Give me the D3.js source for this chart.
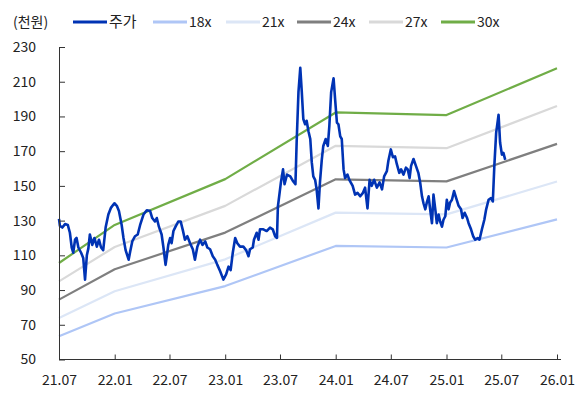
<!DOCTYPE html>
<html>
<head>
<meta charset="utf-8">
<script src="https://cdn.jsdelivr.net/npm/d3@7"></script>
<style>
  body { margin: 0; background: #fff; }
  svg text { font-family: "Noto Sans CJK KR", "Noto Sans", sans-serif; fill: #222; }
</style>
</head>
<body>
<script>
// PER band breakpoints (half-year ticks are drawn from these too)
const bandDates = ['2021-07-01', '2022-01-01', '2023-01-01', '2024-01-01', '2025-01-01', '2026-01-01']
const band18 = [63.4, 76.5, 92.3, 115.4, 114.5, 130.7]
const band21 = [73.9, 89.3, 107.7, 134.6, 133.6, 152.5]
const band24 = [84.5, 102.0, 123.1, 153.8, 152.6, 174.2]
const band27 = [95.0, 114.8, 138.5, 173.1, 171.7, 196.0]
const band30 = [105.6, 127.5, 153.9, 192.3, 190.8, 217.8]

const yTicks = [50, 70, 90, 110, 130, 150, 170, 190, 210, 230]
const unitLabel = '(천원)'

// share price (천원)
const price = [
  ['2021-07-01', 131], ['2021-07-04', 127], ['2021-07-12', 126], ['2021-07-21', 128], ['2021-07-30', 127.5],
  ['2021-08-06', 123], ['2021-08-12', 114.5], ['2021-08-17', 111.5], ['2021-08-23', 119], ['2021-08-28', 120],
  ['2021-09-03', 114.5], ['2021-09-12', 111.5], ['2021-09-19', 108.5], ['2021-09-25', 96], ['2021-10-01', 110],
  ['2021-10-06', 114], ['2021-10-11', 122], ['2021-10-19', 116], ['2021-10-26', 120], ['2021-11-03', 115],
  ['2021-11-10', 119], ['2021-11-17', 114.5], ['2021-11-24', 113], ['2021-12-02', 126], ['2021-12-11', 133.5],
  ['2021-12-20', 137.5], ['2021-12-31', 140], ['2022-01-08', 138.5], ['2022-01-15', 135.5], ['2022-01-24', 127.5],
  ['2022-01-30', 120], ['2022-02-06', 113], ['2022-02-16', 107.5], ['2022-02-21', 112], ['2022-02-28', 118],
  ['2022-03-09', 121], ['2022-03-18', 122], ['2022-03-26', 127.5], ['2022-04-06', 133.5], ['2022-04-17', 136],
  ['2022-04-28', 135.5], ['2022-05-05', 131.5], ['2022-05-14', 129.5], ['2022-05-20', 131.5], ['2022-05-27', 126.5],
  ['2022-06-05', 122], ['2022-06-11', 114.5], ['2022-06-18', 104.5], ['2022-06-22', 109.5], ['2022-06-27', 116],
  ['2022-07-03', 120], ['2022-07-08', 117], ['2022-07-14', 124], ['2022-07-21', 126.5], ['2022-07-30', 129.5],
  ['2022-08-07', 129.5], ['2022-08-14', 124.5], ['2022-08-21', 119], ['2022-08-29', 121], ['2022-09-07', 117],
  ['2022-09-16', 113.5], ['2022-09-23', 107.5], ['2022-10-01', 115], ['2022-10-10', 119], ['2022-10-18', 116],
  ['2022-10-27', 118], ['2022-11-03', 114.5], ['2022-11-12', 113.5], ['2022-11-21', 109.5], ['2022-11-29', 107.5],
  ['2022-12-06', 104.5], ['2022-12-15', 101], ['2022-12-26', 96], ['2023-01-04', 99], ['2023-01-12', 103.5],
  ['2023-01-19', 101.5], ['2023-01-26', 111.5], ['2023-02-03', 120], ['2023-02-10', 117], ['2023-02-19', 115],
  ['2023-03-02', 115], ['2023-03-11', 113], ['2023-03-19', 109.5], ['2023-03-24', 113.5], ['2023-04-02', 114.5],
  ['2023-04-06', 119], ['2023-04-15', 123], ['2023-04-21', 119], ['2023-04-26', 125], ['2023-05-07', 125],
  ['2023-05-18', 124], ['2023-05-29', 126], ['2023-06-07', 125], ['2023-06-15', 121], ['2023-06-21', 120],
  ['2023-06-24', 138], ['2023-07-04', 152], ['2023-07-11', 159.5], ['2023-07-16', 151], ['2023-07-24', 156.5],
  ['2023-08-04', 155.5], ['2023-08-14', 152.5], ['2023-08-21', 151], ['2023-08-25', 175], ['2023-08-31', 204],
  ['2023-09-06', 218], ['2023-09-11', 204], ['2023-09-16', 188.5], ['2023-09-22', 185.5], ['2023-09-27', 187.5],
  ['2023-10-03', 181.5], ['2023-10-09', 177], ['2023-10-14', 163.5], ['2023-10-19', 155.5], ['2023-10-25', 153.5],
  ['2023-10-30', 148], ['2023-11-05', 137], ['2023-11-10', 152], ['2023-11-16', 165], ['2023-11-21', 173],
  ['2023-11-29', 177], ['2023-12-06', 173], ['2023-12-11', 184.5], ['2023-12-17', 204], ['2023-12-25', 212],
  ['2023-12-30', 200], ['2024-01-05', 186.5], ['2024-01-10', 185.5], ['2024-01-16', 178.5], ['2024-01-21', 177],
  ['2024-01-27', 159.5], ['2024-02-01', 154.5], ['2024-02-09', 156.5], ['2024-02-15', 153.5], ['2024-02-26', 150],
  ['2024-03-05', 145], ['2024-03-13', 146], ['2024-03-22', 144], ['2024-03-31', 146], ['2024-04-07', 149],
  ['2024-04-15', 137], ['2024-04-22', 153.5], ['2024-04-29', 150], ['2024-05-07', 153.5], ['2024-05-16', 149],
  ['2024-05-25', 152], ['2024-06-02', 148], ['2024-06-09', 155.5], ['2024-06-18', 158.5], ['2024-06-23', 164.5],
  ['2024-07-01', 171], ['2024-07-08', 166.5], ['2024-07-15', 167], ['2024-07-21', 162.5], ['2024-07-29', 157.5],
  ['2024-08-04', 159.5], ['2024-08-12', 156.5], ['2024-08-20', 160.5], ['2024-08-26', 159.5], ['2024-09-01', 154.5],
  ['2024-09-06', 161.5], ['2024-09-14', 165.5], ['2024-09-22', 161.5], ['2024-09-30', 157.5], ['2024-10-06', 152],
  ['2024-10-12', 144], ['2024-10-17', 140], ['2024-10-23', 136.5], ['2024-10-28', 140.5], ['2024-11-03', 144],
  ['2024-11-08', 136.5], ['2024-11-14', 128.5], ['2024-11-19', 145], ['2024-11-25', 136.5], ['2024-11-30', 128.5],
  ['2024-12-06', 133.5], ['2024-12-11', 129.5], ['2024-12-17', 126.5], ['2024-12-22', 130.5], ['2024-12-28', 132.5],
  ['2025-01-02', 142], ['2025-01-08', 136.5], ['2025-01-13', 140.5], ['2025-01-19', 142], ['2025-01-26', 147],
  ['2025-02-02', 143], ['2025-02-10', 138.5], ['2025-02-18', 136.5], ['2025-02-23', 131.5], ['2025-03-02', 134.5],
  ['2025-03-10', 131.5], ['2025-03-15', 128.5], ['2025-03-23', 125], ['2025-03-30', 121], ['2025-04-06', 119],
  ['2025-04-14', 120], ['2025-04-20', 119], ['2025-04-28', 125], ['2025-05-06', 130.5], ['2025-05-12', 136.5],
  ['2025-05-20', 142], ['2025-05-28', 143], ['2025-06-03', 141], ['2025-06-08', 161.5], ['2025-06-14', 180.5],
  ['2025-06-22', 191], ['2025-06-27', 175], ['2025-07-03', 168], ['2025-07-08', 169], ['2025-07-14', 165]
]

const series = [
  { name: '주가', color: '#0033b4', width: 2.6, values: price },
  { name: '18x', color: '#afc6f6', width: 2.2, values: bandDates.map((d, i) => [d, band18[i]]) },
  { name: '21x', color: '#dce6f6', width: 2.2, values: bandDates.map((d, i) => [d, band21[i]]) },
  { name: '24x', color: '#7f7f7f', width: 2.2, values: bandDates.map((d, i) => [d, band24[i]]) },
  { name: '27x', color: '#d9d9d9', width: 2.2, values: bandDates.map((d, i) => [d, band27[i]]) },
  { name: '30x', color: '#70ad47', width: 2.2, values: bandDates.map((d, i) => [d, band30[i]]) }
]

const width = 577
const height = 394
const parse = d3.timeParse('%Y-%m-%d')

const svg = d3.select('body').append('svg')
  .attr('width', width)
  .attr('height', height)

const x = d3.scaleTime()
  .domain([parse(bandDates[0]), parse(bandDates[bandDates.length - 1])])
  .range([59, 557])

const y = d3.scaleLinear()
  .domain([50, 230])
  .range([359.5, 47])

// draw bands first, price on top
const line = d3.line()
  .x(d => x(parse(d[0])))
  .y(d => y(d[1]))

svg.append('g')
  .selectAll('path')
  .data(series.slice(1).concat(series.slice(0, 1)))
  .enter()
  .append('path')
  .attr('d', d => line(d.values))
  .attr('fill', 'none')
  .attr('stroke', d => d.color)
  .attr('stroke-width', d => d.width)
  .attr('stroke-linejoin', 'round')

// axes
const xAxis = svg.append('g')
  .attr('transform', `translate(0,${y(50)})`)
  .call(d3.axisBottom(x)
    .ticks(d3.timeMonth.every(6))
    .tickFormat(d3.timeFormat('%y.%m'))
    .tickSizeInner(-5)
    .tickSizeOuter(0)
    .tickPadding(16))
xAxis.select('.domain').remove()
xAxis.append('line')
  .attr('x1', x.range()[0]).attr('x2', x.range()[1] + 4)
  .attr('stroke', '#333').attr('stroke-width', 1)
xAxis.selectAll('.tick line').attr('stroke', '#333')
xAxis.selectAll('text').attr('font-size', 14).attr('fill', '#222')

const yAxis = svg.append('g')
  .attr('transform', `translate(${x.range()[0]},0)`)
  .call(d3.axisLeft(y)
    .tickValues(yTicks)
    .tickSizeInner(-6)
    .tickSizeOuter(0)
    .tickPadding(23))
yAxis.select('.domain').attr('stroke', '#333')
yAxis.selectAll('.tick line').attr('stroke', '#333')
yAxis.selectAll('text').attr('font-size', 14).attr('fill', '#222')

// legend
svg.append('text')
  .attr('x', 13).attr('y', 27)
  .attr('font-size', 14)
  .text(unitLabel)

const legendX = [73, 153, 226, 297, 369, 441]
const legend = svg.append('g')
  .selectAll('g')
  .data(series)
  .enter()
  .append('g')
  .attr('transform', (d, i) => `translate(${legendX[i]},22)`)
legend.append('line')
  .attr('x1', 0).attr('x2', 34)
  .attr('stroke', d => d.color)
  .attr('stroke-width', 3)
legend.append('text')
  .attr('x', 36).attr('y', 5)
  .attr('font-size', d => d.name === '주가' ? 15 : 14)
  .text(d => d.name)
</script>
</body>
</html>
